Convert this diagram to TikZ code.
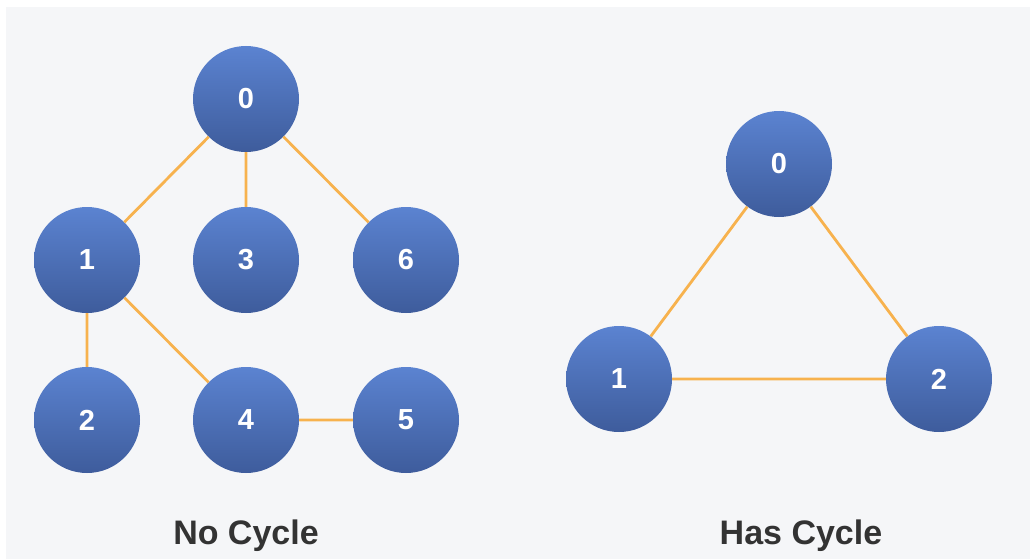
\documentclass[tikz,border=0pt]{standalone}
\usepackage{fontspec}
\setmainfont{Liberation Sans}
\definecolor{panel}{HTML}{F5F6F8}
\definecolor{nodetop}{HTML}{5B83D1}
\definecolor{nodebot}{HTML}{3E5C9C}
\definecolor{edgecol}{HTML}{F7B24E}
\definecolor{captioncol}{HTML}{333333}
\tikzset{
  vertex/.style={circle, minimum size=106pt, inner sep=0pt,
    top color=nodetop, bottom color=nodebot, draw=none,
    text=white, font=\fontsize{29}{29}\selectfont\bfseries},
  link/.style={draw=edgecol, line width=2.8pt},
  caption/.style={text=captioncol, font=\fontsize{34}{34}\selectfont\bfseries}
}
\begin{document}
\begin{tikzpicture}[x=1pt,y=-1pt]
  \useasboundingbox (0,0) rectangle (1030,559);
  \fill[white] (0,0) rectangle (1030,559);
  \fill[panel] (6,7) rectangle (1030,559);

  % tree without a cycle
  \node[vertex] (t0) at (246,99) {0};
  \node[vertex] (t1) at (87,260) {1};
  \node[vertex] (t3) at (246,260) {3};
  \node[vertex] (t6) at (406,260) {6};
  \node[vertex] (t2) at (87,420) {2};
  \node[vertex] (t4) at (246,420) {4};
  \node[vertex] (t5) at (406,420) {5};

  % triangle with a cycle
  \node[vertex] (c0) at (779,164) {0};
  \node[vertex] (c1) at (619,379) {1};
  \node[vertex] (c2) at (939,379) {2};

  \path[link] (t0) -- (t1) (t0) -- (t3) (t0) -- (t6)
              (t1) -- (t2) (t1) -- (t4) (t4) -- (t5);
  \path[link] (c0) -- (c1) (c0) -- (c2) (c1) -- (c2);

  \node[caption] (lab1) at (246,536) {No Cycle};
  \node[caption] (lab2) at (801,536) {Has Cycle};
\end{tikzpicture}
\end{document}
